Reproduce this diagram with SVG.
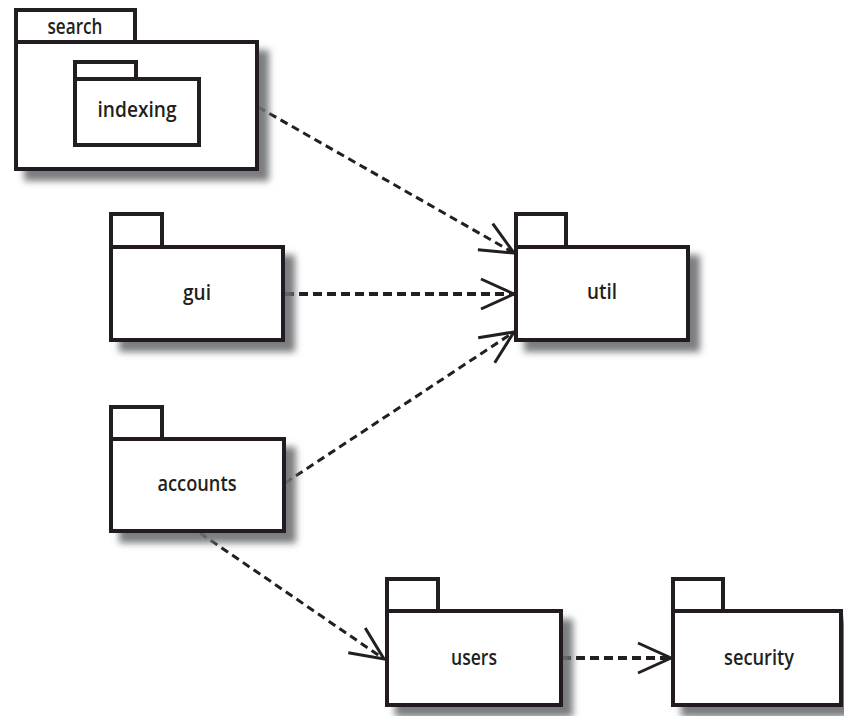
<svg xmlns="http://www.w3.org/2000/svg" width="844" height="716" viewBox="0 0 844 716">
  <style>
    .pkg { fill: #ffffff; stroke: #231f20; stroke-width: 4; }
    .body { fill: #ffffff; stroke: #231f20; stroke-width: 4; filter: url(#shadow); }
    .lbl { font-family: "Open Sans", "Liberation Sans", sans-serif; font-weight: 600; font-size: 22px; fill: #231f20; text-anchor: middle; }
    .dep { fill: none; stroke: #231f20; stroke-width: 3; stroke-dasharray: 8 5; }
    .dep.h { stroke-width: 4; stroke-dasharray: 9 5; }
  </style>
  <defs>
    <filter id="shadow" x="-10%" y="-10%" width="130%" height="140%">
      <feFlood flood-color="#6d6e71" flood-opacity="0.9" result="c"/>
      <feComposite in="c" in2="SourceAlpha" operator="in" result="s"/>
      <feOffset in="s" dx="10" dy="10" result="o"/>
      <feGaussianBlur in="o" stdDeviation="3.5" result="b"/>
      <feMerge>
        <feMergeNode in="b"/>
        <feMergeNode in="SourceGraphic"/>
      </feMerge>
    </filter>
    <marker id="open" viewBox="-36 -18 40 36" refX="0" refY="0" markerWidth="40" markerHeight="36" markerUnits="userSpaceOnUse" orient="auto">
      <path d="M-33,-15 L0,0 L-33,15" fill="none" stroke="#231f20" stroke-width="3" stroke-dasharray="none"/>
    </marker>
  </defs>

  <!-- dependency connectors -->
  <g id="connectors">
    <line class="dep" x1="258" y1="107" x2="514" y2="253" marker-end="url(#open)"/>
    <line class="dep h" x1="285" y1="294" x2="514" y2="294" marker-end="url(#open)"/>
    <line class="dep" x1="285" y1="483" x2="514" y2="332" marker-end="url(#open)"/>
    <line class="dep" x1="200" y1="533" x2="384" y2="659" marker-end="url(#open)"/>
    <line class="dep h" x1="562" y1="658" x2="671" y2="658" marker-end="url(#open)"/>
  </g>

  <!-- search package with nested indexing -->
  <g id="search">
    <rect class="pkg" x="16" y="10" width="119" height="32"/>
    <rect class="body" x="16" y="42" width="241" height="127"/>
    <text class="lbl" x="75" y="34" font-size="21" textLength="55" lengthAdjust="spacingAndGlyphs">search</text>
  </g>
  <g id="indexing">
    <rect class="pkg" x="75" y="62" width="61" height="17"/>
    <rect class="pkg" x="75" y="79" width="124" height="66"/>
    <text class="lbl" x="137" y="117" textLength="79" lengthAdjust="spacingAndGlyphs">indexing</text>
  </g>

  <g id="gui">
    <rect class="pkg" x="111" y="214" width="51" height="33"/>
    <rect class="body" x="111" y="247" width="172" height="93"/>
    <text class="lbl" x="197" y="300" textLength="28" lengthAdjust="spacingAndGlyphs">gui</text>
  </g>

  <g id="util">
    <rect class="pkg" x="516" y="214" width="50" height="33"/>
    <rect class="body" x="516" y="247" width="172" height="93"/>
    <text class="lbl" x="602" y="299" textLength="30" lengthAdjust="spacingAndGlyphs">util</text>
  </g>

  <g id="accounts">
    <rect class="pkg" x="111" y="407" width="51" height="32"/>
    <rect class="body" x="111" y="439" width="173" height="92"/>
    <text class="lbl" x="197" y="491" textLength="79" lengthAdjust="spacingAndGlyphs">accounts</text>
  </g>

  <g id="users">
    <rect class="pkg" x="387" y="579" width="51" height="32"/>
    <rect class="body" x="387" y="611" width="174" height="94"/>
    <text class="lbl" x="474" y="665" textLength="46" lengthAdjust="spacingAndGlyphs">users</text>
  </g>

  <g id="security">
    <rect class="pkg" x="673" y="579" width="50" height="32"/>
    <rect class="body" x="673" y="611" width="168" height="94"/>
    <text class="lbl" x="759" y="665" textLength="70" lengthAdjust="spacingAndGlyphs">security</text>
  </g>
</svg>
